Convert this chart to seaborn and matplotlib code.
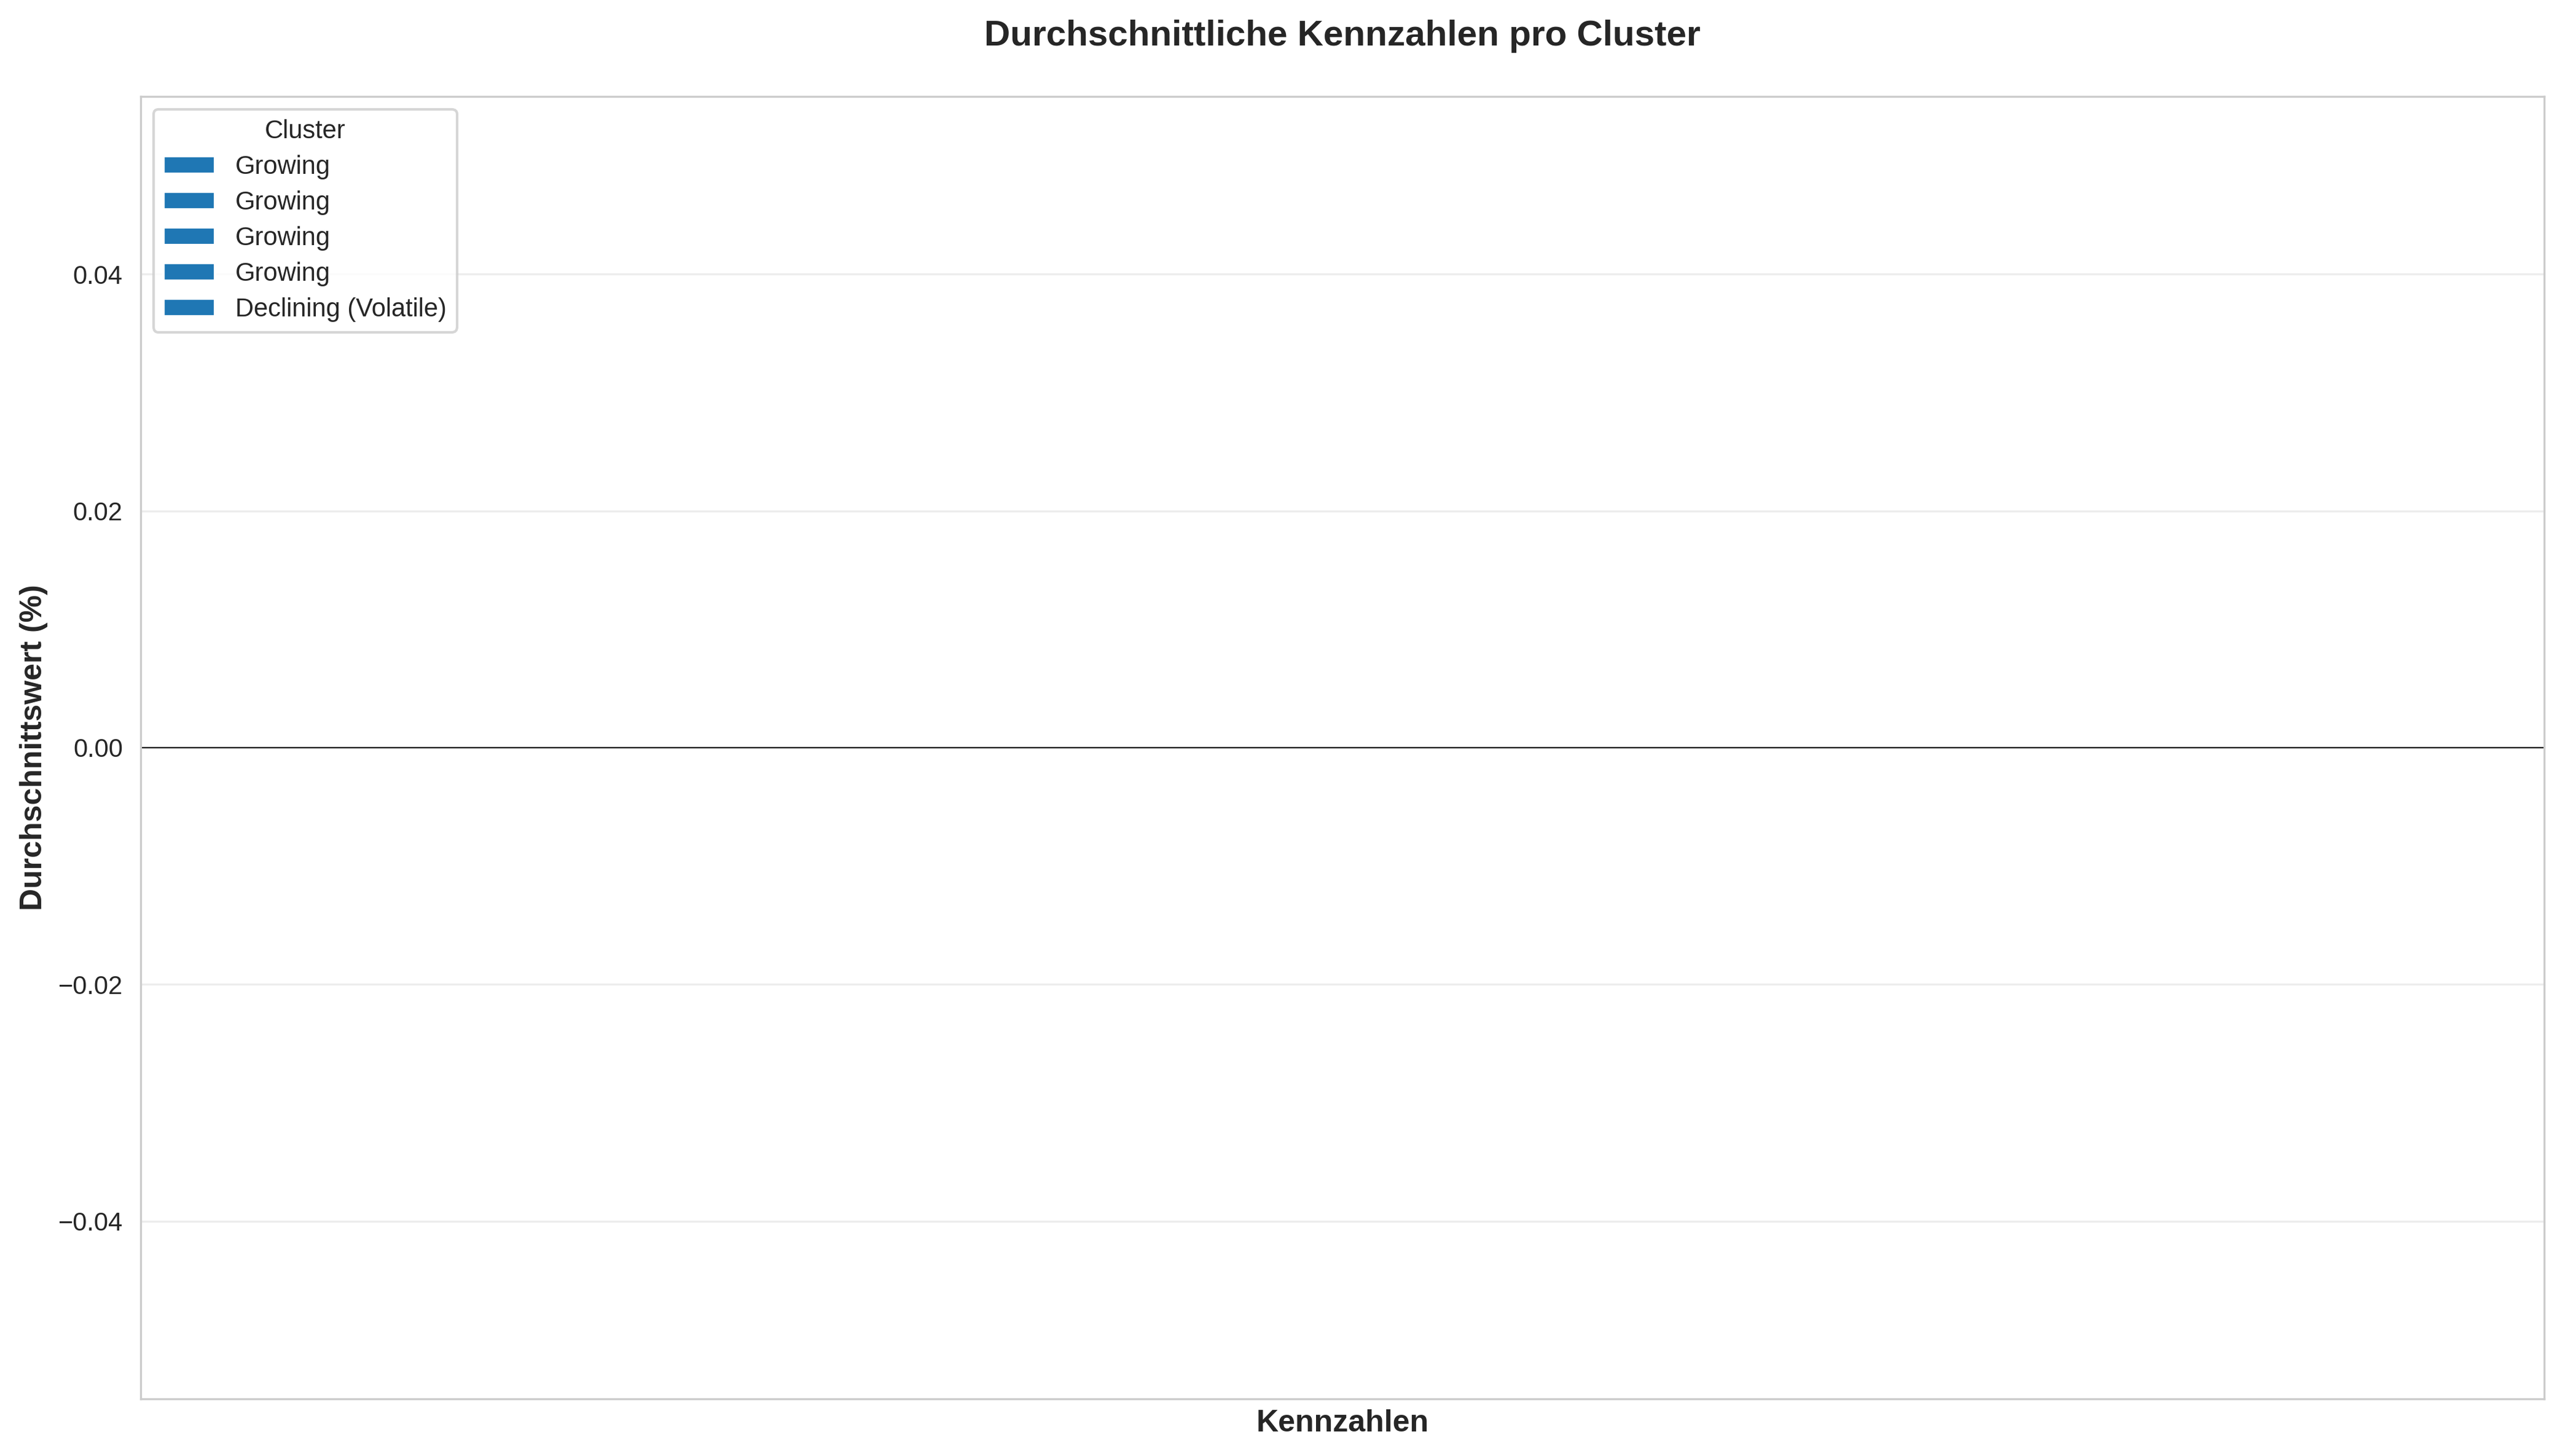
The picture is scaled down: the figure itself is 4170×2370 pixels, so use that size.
import numpy as np
import matplotlib
matplotlib.use("Agg")
import matplotlib.pyplot as plt
from matplotlib.patches import Patch
import seaborn as sns

# Cluster-Namen (Legende) und Kennzahlen (leer -> keine Balken im Diagramm)
clusters = ["Growing", "Growing", "Growing", "Growing", "Declining (Volatile)"]
metrics = []
cluster_values = [[], [], [], [], []]

sns.set_style("whitegrid")
plt.rcParams["font.family"] = ["Liberation Sans", "DejaVu Sans"]

fig, ax = plt.subplots(figsize=(13.9, 7.9), dpi=300)
fig.subplots_adjust(left=0.0549, right=0.993, top=0.9338, bottom=0.0392)

bar_color = "#1f77b4"
x = np.arange(len(metrics))
width = 0.8 / len(clusters)

# Balken je Cluster zeichnen
for i, (name, vals) in enumerate(zip(clusters, cluster_values)):
    ax.bar(x + (i - len(clusters) / 2 + 0.5) * width, vals, width, color=bar_color, label=name)

ax.axhline(0, color="black", linewidth=0.5)

ax.set_xticks(x)
ax.set_xticklabels(metrics)
ax.grid(axis="y", alpha=0.35)
ax.grid(axis="x", visible=False)

ax.set_title("Durchschnittliche Kennzahlen pro Cluster", fontsize=14, fontweight="bold", pad=20)
ax.set_xlabel("Kennzahlen", fontsize=12, fontweight="bold")
ax.set_ylabel("Durchschnittswert (%)", fontsize=12, fontweight="bold")

handles = [Patch(facecolor=bar_color, label=c) for c in clusters]
ax.legend(handles=handles, title="Cluster", loc="upper left", fontsize=10,
          title_fontsize=10, labelspacing=0.43)

fig.savefig("out.png", dpi=300)
